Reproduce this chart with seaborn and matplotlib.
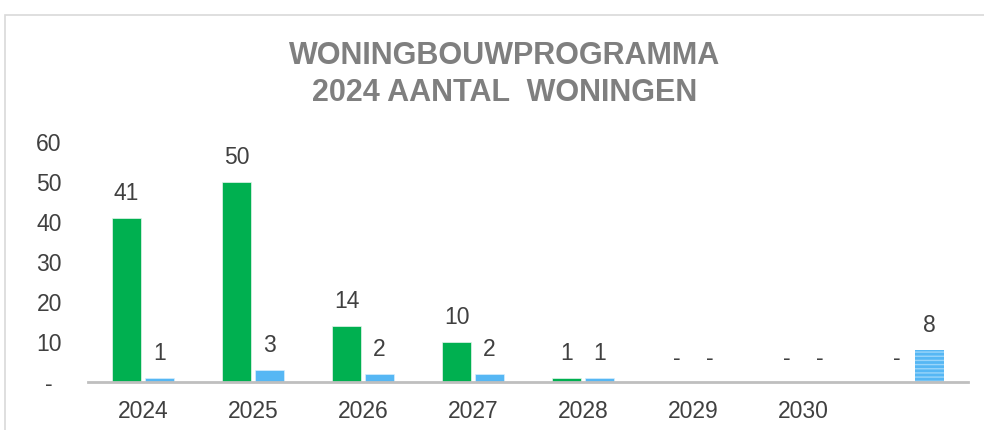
import pandas as pd
import matplotlib
matplotlib.use("Agg")
import matplotlib.pyplot as plt
import seaborn as sns
from matplotlib.patches import Rectangle

# data
jaren = ["2024", "2025", "2026", "2027", "2028", "2029", "2030", ""]
groen = [41, 50, 14, 10, 1, 0, 0, 0]
blauw = [1, 3, 2, 2, 1, 0, 0, 8]
yticks = [0, 10, 20, 30, 40, 50, 60]
ytick_labels = ["-", "10", "20", "30", "40", "50", "60"]

sns.set_style("white")
plt.rcParams["font.family"] = ["Liberation Sans", "DejaVu Sans"]
plt.rcParams["hatch.linewidth"] = 1.0

df = pd.DataFrame({
    "aantal": groen + blauw,
    "reeks": ["groen"] * len(jaren) + ["blauw"] * len(jaren),
})
df["pos"] = list(range(len(jaren))) * 2

fig = plt.figure(figsize=(9.84, 4.3), dpi=100)
ax = fig.add_axes([88 / 984, 1 - 382 / 430, 880 / 984, 240 / 430])

sns.barplot(
    data=df, x="pos", y="aantal", hue="reeks",
    palette={"groen": "#00b050", "blauw": "#56b7f4"}, saturation=1,
    width=0.6, gap=0.1, ax=ax, legend=False,
    edgecolor="#e6f5ec", linewidth=0.5,
)
for p in ax.containers[1].patches:
    p.set_edgecolor("#d6eefd")

# last blue bar is striped
last = ax.containers[1].patches[-1]
last.set_hatch("----")
last.set_edgecolor("#9ad5fa")
last.set_linewidth(0)

for cont, vals in zip(ax.containers, [groen, blauw]):
    labels = [str(v) if v != 0 else "-" for v in vals]
    ax.bar_label(cont, labels=labels, padding=9, fontsize=16.5, color="#404040")

ax.set_xlim(-0.5, len(jaren) - 0.5)
ax.set_ylim(0, 60)
ax.set_xticks(range(len(jaren)))
ax.set_xticklabels(jaren, fontsize=16.5, color="#404040")
ax.set_yticks(yticks)
ax.set_yticklabels(ytick_labels, fontsize=16.5, color="#404040")
ax.tick_params(axis="x", length=0, pad=13)
ax.tick_params(axis="y", length=0, pad=28)
for lab in ax.get_yticklabels():
    lab.set_horizontalalignment("center")
ax.set_xlabel("")
ax.set_ylabel("")
for s in ["left", "right", "top"]:
    ax.spines[s].set_visible(False)
ax.spines["bottom"].set_color("#bfbfbf")
ax.spines["bottom"].set_linewidth(2)

fig.text(505 / 984, 1 - 56 / 430, "WONINGBOUWPROGRAMMA", ha="center", va="center",
         fontsize=22, fontweight="bold", color="#7f7f7f")
fig.text(505 / 984, 1 - 93 / 430, "2024 AANTAL  WONINGEN", ha="center", va="center",
         fontsize=22, fontweight="bold", color="#7f7f7f")

# light frame around the chart area
fig.patches.append(Rectangle((5 / 984, -0.1), 1.2, 1 - 15 / 430 + 0.1,
                             transform=fig.transFigure, fill=False,
                             edgecolor="#d9d9d9", linewidth=1.2))

fig.savefig("out.png", dpi=100)
